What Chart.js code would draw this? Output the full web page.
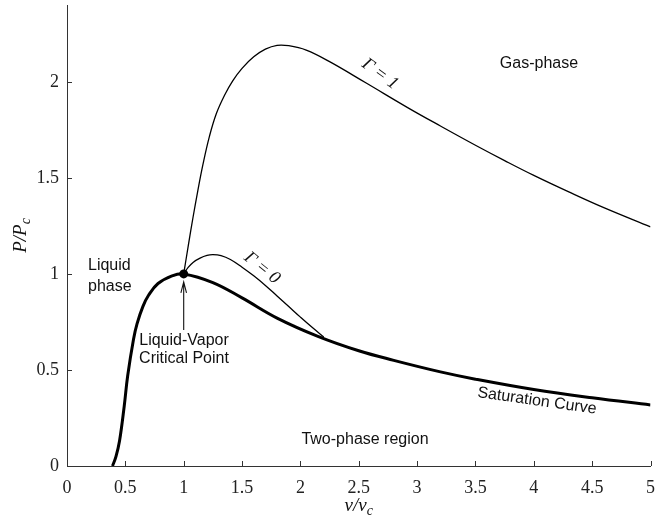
<!DOCTYPE html>
<html>
<head>
<meta charset="utf-8">
<script src="https://cdn.jsdelivr.net/npm/chart.js@4"></script>
<style>
  html, body { margin: 0; padding: 0; background: #fff; }
  #wrap { width: 655px; height: 520px; position: relative; }
</style>
</head>
<body>
<div id="wrap"><canvas id="phaseChart"></canvas></div>
<script>
// values
const satX = [0.39, 0.42, 0.45, 0.49, 0.52, 0.57, 0.60, 0.65, 0.70, 0.78, 0.90, 1.0, 1.25, 1.5, 1.8, 2.15, 2.5, 2.8, 3.2, 3.5, 4.0, 4.5, 5.0];
const satY = [0, 0.05, 0.13, 0.31, 0.47, 0.66, 0.74, 0.83, 0.89, 0.95, 0.99, 1.0, 0.955, 0.875, 0.77, 0.675, 0.60, 0.55, 0.49, 0.452, 0.398, 0.355, 0.318];
const gamma0X = [1.0, 1.04, 1.08, 1.14, 1.2, 1.25, 1.32, 1.4, 1.5, 1.6, 1.7, 1.8, 1.9, 2.0, 2.1, 2.2];
const gamma0Y = [1.0, 1.035, 1.06, 1.082, 1.096, 1.1, 1.095, 1.075, 1.035, 0.99, 0.94, 0.885, 0.83, 0.775, 0.722, 0.672];
const gamma1X = [1.0, 1.04, 1.08, 1.12, 1.165, 1.22, 1.28, 1.35, 1.42, 1.5, 1.6, 1.7, 1.8, 1.9, 2.05, 2.25, 2.56, 2.93, 3.2, 3.5, 3.75, 4.0, 4.3, 4.6, 5.0];
const gamma1Y = [1.0, 1.15, 1.295, 1.43, 1.57, 1.715, 1.835, 1.93, 2.005, 2.07, 2.13, 2.17, 2.19, 2.188, 2.165, 2.105, 1.995, 1.862, 1.77, 1.67, 1.59, 1.513, 1.427, 1.345, 1.245];
const critX = [1];
const critY = [1];
const xTicks = [0, 0.5, 1, 1.5, 2, 2.5, 3, 3.5, 4, 4.5, 5];
const yTicks = [0, 0.5, 1, 1.5, 2];

const pts = (xs, ys) => xs.map((x, i) => ({x: x, y: ys[i]}));

const sansFont = '16px "Liberation Sans", Arial, sans-serif';
const gammaFont = 'italic 18px "Liberation Serif", serif';
const axisColor = '#333';

// text with a subscript, e.g. P/P + c
const subText = (ctx, main, sub, x, y) => {
    ctx.font = 'italic 19px "Liberation Serif", serif';
    const w1 = ctx.measureText(main).width;
    ctx.font = 'italic 14px "Liberation Serif", serif';
    const w2 = ctx.measureText(sub).width;
    const start = x - (w1 + w2) / 2;
    ctx.textAlign = 'left';
    ctx.textBaseline = 'middle';
    ctx.font = 'italic 19px "Liberation Serif", serif';
    ctx.fillText(main, start, y);
    ctx.font = 'italic 14px "Liberation Serif", serif';
    ctx.fillText(sub, start + w1, y + 5);
};

const rotText = (ctx, text, x, y, deg, font) => {
    ctx.save();
    ctx.translate(x, y);
    ctx.rotate(deg * Math.PI / 180);
    ctx.font = font;
    ctx.textAlign = 'center';
    ctx.textBaseline = 'middle';
    ctx.fillText(text, 0, 0);
    ctx.restore();
};

const extras = {
    id: 'extras',
    afterDraw(chart) {
        const ctx = chart.ctx;
        const xs = chart.scales.x;
        const ys = chart.scales.y;
        const area = chart.chartArea;
        ctx.save();

        // inward tick marks
        ctx.strokeStyle = axisColor;
        ctx.lineWidth = 1;
        ctx.beginPath();
        xTicks.forEach((v) => {
            const px = Math.round(xs.getPixelForValue(v)) + 0.5;
            ctx.moveTo(px, area.bottom);
            ctx.lineTo(px, area.bottom - 5);
        });
        yTicks.forEach((v) => {
            const py = Math.round(ys.getPixelForValue(v)) + 0.5;
            ctx.moveTo(area.left, py);
            ctx.lineTo(area.left + 5, py);
        });
        ctx.stroke();

        // arrow to the critical point
        const ax = xs.getPixelForValue(1);
        const aTop = ys.getPixelForValue(0.958);
        const aBot = ys.getPixelForValue(0.708);
        ctx.strokeStyle = '#111';
        ctx.lineWidth = 1.1;
        ctx.beginPath();
        ctx.moveTo(ax, aBot);
        ctx.lineTo(ax, aTop);
        ctx.moveTo(ax - 2.8, aTop + 11);
        ctx.lineTo(ax, aTop);
        ctx.lineTo(ax + 2.8, aTop + 11);
        ctx.stroke();

        // labels
        ctx.fillStyle = '#111';
        ctx.font = sansFont;
        ctx.textBaseline = 'middle';
        ctx.textAlign = 'left';
        ctx.fillText('Liquid', 88, 266);
        ctx.fillText('phase', 88, 287);
        ctx.textAlign = 'center';
        ctx.fillText('Liquid-Vapor', 184, 341);
        ctx.fillText('Critical Point', 184, 359);
        ctx.fillText('Gas-phase', 539, 64);
        ctx.fillText('Two-phase region', 365, 440);

        rotText(ctx, 'Saturation Curve', 537, 401, 8, sansFont);
        rotText(ctx, '\u0393 = 1', 380, 74, 36, gammaFont);
        rotText(ctx, '\u0393 = 0', 262, 268, 39, gammaFont);

        // axis titles
        subText(ctx, 'v/v', 'c', (area.left + area.right) / 2, 506);
        ctx.save();
        ctx.translate(21, (area.top + area.bottom) / 2);
        ctx.rotate(-Math.PI / 2);
        subText(ctx, 'P/P', 'c', 0, 0);
        ctx.restore();

        ctx.restore();
    }
};

const tickFont = {family: '"Liberation Serif", serif', size: 18};

new Chart(document.getElementById('phaseChart'), {
    type: 'line',
    data: {
        datasets: [
            {
                label: 'Critical point',
                data: pts(critX, critY),
                showLine: false,
                pointRadius: 4.5,
                pointBackgroundColor: '#000',
                pointBorderColor: '#000',
                pointBorderWidth: 0,
                order: 0,
            },
            {
                label: 'Saturation Curve',
                data: pts(satX, satY),
                borderColor: '#000',
                borderWidth: 3,
                pointRadius: 0,
                tension: 0.4,
                order: 1,
            },
            {
                label: 'Gamma = 0',
                data: pts(gamma0X, gamma0Y),
                borderColor: '#000',
                borderWidth: 1.3,
                pointRadius: 0,
                tension: 0.4,
                order: 2,
            },
            {
                label: 'Gamma = 1',
                data: pts(gamma1X, gamma1Y),
                borderColor: '#000',
                borderWidth: 1.3,
                pointRadius: 0,
                tension: 0.4,
                order: 3,
            },
        ],
    },
    options: {
        responsive: true,
        maintainAspectRatio: false,
        animation: false,
        events: [],
        layout: {
            padding: {top: 5, right: 3, left: 0, bottom: 0},
        },
        plugins: {
            legend: {display: false},
            tooltip: {enabled: false},
        },
        scales: {
            x: {
                type: 'linear',
                min: 0,
                max: 5,
                afterBuildTicks: (scale) => {
                    scale.ticks = xTicks.map((v) => ({value: v}));
                },
                afterFit: (scale) => {
                    scale.height = 54;
                    scale.paddingLeft = 0;
                    scale.paddingRight = 0;
                },
                grid: {display: false, drawTicks: false},
                border: {display: true, color: axisColor, width: 1},
                ticks: {
                    padding: 11,
                    maxRotation: 0,
                    autoSkip: false,
                    color: '#222',
                    font: tickFont,
                    callback: (v) => String(v),
                },
            },
            y: {
                type: 'linear',
                min: 0,
                max: 2.4,
                afterBuildTicks: (scale) => {
                    scale.ticks = yTicks.map((v) => ({value: v}));
                },
                afterFit: (scale) => {
                    scale.width = 67;
                    scale.paddingTop = 0;
                    scale.paddingBottom = 0;
                },
                grid: {display: false, drawTicks: false},
                border: {display: true, color: axisColor, width: 1},
                ticks: {
                    padding: 8,
                    autoSkip: false,
                    color: '#222',
                    font: tickFont,
                    callback: (v) => String(v),
                },
            },
        },
    },
    plugins: [extras],
});
</script>
</body>
</html>
